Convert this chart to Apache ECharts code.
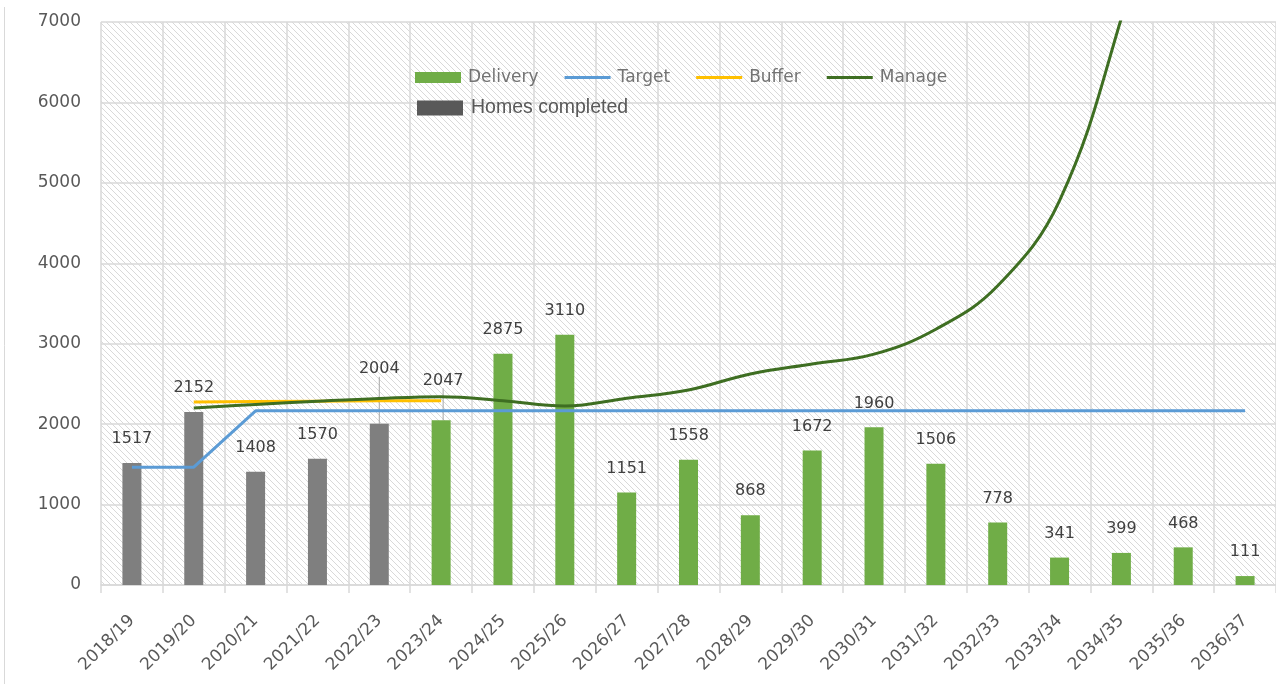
<!DOCTYPE html>
<html>
<head>
<meta charset="utf-8">
<script src="https://cdn.jsdelivr.net/npm/echarts@6/dist/echarts.min.js"></script>
<style>
    html, body { margin: 0; padding: 0; background: #fff; }
    #main { width: 1276px; height: 684px; }
</style>
</head>
<body>
<div id="main"></div>
<script>
var years = ['2018/19', '2019/20', '2020/21', '2021/22', '2022/23', '2023/24', '2024/25',
    '2025/26', '2026/27', '2027/28', '2028/29', '2029/30', '2030/31', '2031/32',
    '2032/33', '2033/34', '2034/35', '2035/36', '2036/37'];
var homesCompleted = [1517, 2152, 1408, 1570, 2004, '-', '-', '-', '-', '-', '-', '-', '-', '-', '-', '-', '-', '-', '-'];
var delivery = ['-', '-', '-', '-', '-', 2047, 2875, 3110, 1151, 1558, 868, 1672, 1960, 1506, 778, 341, 399, 468, 111];
var target = [1465, 1465, 2165, 2165, 2165, 2165, 2165, 2165, 2165, 2165, 2165, 2165, 2165, 2165, 2165, 2165, 2165, 2165, 2165];
var buffer = ['-', 2275, 2280, 2285, 2290, 2290, '-', '-', '-', '-', '-', '-', '-', '-', '-', '-', '-', '-', '-'];
var manage = ['-', 2200, 2245, 2285, 2320, 2342, 2292, 2226, 2322, 2425, 2624, 2748, 2870, 3180, 3720, 4780, 7050, 9900, 13800];
var yTicks = [0, 7000, 1000];
// labels pulled up with a leader line: [series, index, dx, dy]
var movedLabels = [['Homes completed', 4, 0, -31], ['Delivery', 5, 2, -16]];

// diagonal hatch for the plot background
function hatch() {
    var c = document.createElement('canvas');
    c.width = 6; c.height = 6;
    var ctx = c.getContext('2d');
    ctx.fillStyle = '#fff';
    ctx.fillRect(0, 0, 6, 6);
    ctx.strokeStyle = '#d9d9d9';
    ctx.lineWidth = 1;
    ctx.beginPath();
    ctx.moveTo(-1, -1); ctx.lineTo(7, 7);
    ctx.moveTo(-1, 5); ctx.lineTo(1, 7);
    ctx.moveTo(5, -1); ctx.lineTo(7, 1);
    ctx.stroke();
    return c;
}

function withLeader(name, values) {
    return values.map(function (v, i) {
        for (var k = 0; k < movedLabels.length; k++) {
            if (movedLabels[k][0] === name && movedLabels[k][1] === i) {
                return { value: v, labelLine: { show: true } };
            }
        }
        return v;
    });
}

function moveLabel(name) {
    return function (p) {
        for (var k = 0; k < movedLabels.length; k++) {
            if (movedLabels[k][0] === name && movedLabels[k][1] === p.dataIndex) {
                return { dx: movedLabels[k][2], dy: movedLabels[k][3] };
            }
        }
    };
}

var labelFont = 'DejaVu Sans';
var lineIcon = 'path://M0,0H46V3H0Z';
var myChart = echarts.init(document.getElementById('main'));
var barLabel = {
    show: true,
    position: 'top',
    distance: 16,
    color: '#404040',
    fontFamily: labelFont,
    fontSize: 16
};
var option = {
    animation: false,
    backgroundColor: '#fff',
    grid: {
        show: true,
        left: 101,
        top: 22,
        width: 1177,
        height: 563,
        borderWidth: 0,
        backgroundColor: { image: hatch(), repeat: 'repeat' }
    },
    graphic: [{
        type: 'line',
        shape: { x1: 4.5, y1: 7, x2: 4.5, y2: 684 },
        style: { stroke: '#d9d9d9', lineWidth: 1 }
    }],
    legend: [{
        left: 415,
        top: 69,
        padding: 0,
        itemWidth: 46,
        itemHeight: 11,
        itemGap: 26,
        textStyle: { color: '#737373', fontFamily: labelFont, fontSize: 17, padding: [0, 0, 0, 2] },
        data: [
            { name: 'Delivery', icon: 'rect' },
            { name: 'Target', icon: lineIcon },
            { name: 'Buffer', icon: lineIcon },
            { name: 'Manage', icon: lineIcon }
        ]
    }, {
        left: 417,
        top: 98,
        padding: 0,
        itemWidth: 46,
        itemHeight: 15,
        textStyle: { color: '#595959', fontFamily: 'Liberation Sans', fontSize: 19.5, padding: [0, 0, 0, 3] },
        data: [{ name: 'Homes completed', icon: 'rect', itemStyle: { color: '#595959' } }]
    }],
    xAxis: {
        type: 'category',
        data: years,
        boundaryGap: true,
        axisLine: { lineStyle: { color: '#d9d9d9', width: 1.5 } },
        axisTick: { show: true, length: 8, lineStyle: { color: '#d9d9d9', width: 1.5 } },
        splitLine: { show: true, lineStyle: { color: '#d9d9d9', width: 1.5 } },
        axisLabel: {
            rotate: 45,
            interval: 0,
            margin: 33,
            color: '#595959',
            fontFamily: labelFont,
            fontSize: 17
        }
    },
    yAxis: {
        type: 'value',
        min: yTicks[0],
        max: yTicks[1],
        interval: yTicks[2],
        axisLine: { show: false },
        axisTick: { show: false },
        splitLine: { lineStyle: { color: '#d9d9d9', width: 1.5 } },
        axisLabel: {
            margin: 20,
            color: '#595959',
            fontFamily: labelFont,
            fontSize: 17,
            formatter: function (v) { return String(v); }
        }
    },
    series: [{
        name: 'Homes completed',
        type: 'bar',
        stack: 'total',
        barWidth: 19,
        itemStyle: { color: '#7f7f7f' },
        label: barLabel,
        labelLine: { show: false, lineStyle: { color: '#a6a6a6', width: 1 } },
        labelLayout: moveLabel('Homes completed'),
        data: withLeader('Homes completed', homesCompleted)
    }, {
        name: 'Delivery',
        type: 'bar',
        stack: 'total',
        barWidth: 19,
        itemStyle: { color: '#70ad47' },
        label: barLabel,
        labelLine: { show: false, lineStyle: { color: '#a6a6a6', width: 1 } },
        labelLayout: moveLabel('Delivery'),
        data: withLeader('Delivery', delivery)
    }, {
        name: 'Target',
        type: 'line',
        symbol: 'none',
        lineStyle: { color: '#5b9bd5', width: 3 },
        itemStyle: { color: '#5b9bd5' },
        data: target
    }, {
        name: 'Buffer',
        type: 'line',
        symbol: 'none',
        lineStyle: { color: '#ffc000', width: 3 },
        itemStyle: { color: '#ffc000' },
        data: buffer
    }, {
        name: 'Manage',
        type: 'line',
        symbol: 'none',
        smooth: 0.4,
        clip: true,
        lineStyle: { color: '#3e6e22', width: 3 },
        itemStyle: { color: '#3e6e22' },
        data: manage
    }]
};
myChart.setOption(option);
window.onresize = function () {
    myChart.resize();
};
</script>
</body>
</html>
